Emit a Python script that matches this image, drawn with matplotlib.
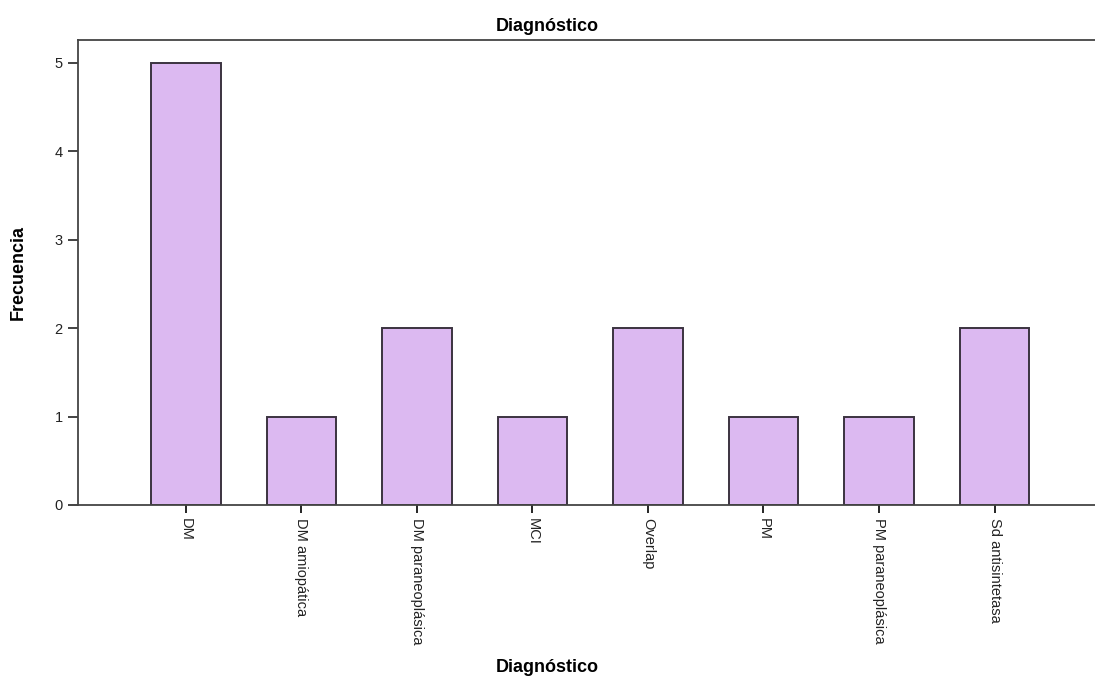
import matplotlib
matplotlib.use("Agg")
import matplotlib.pyplot as plt

plt.rcParams['font.family'] = ['Liberation Sans', 'DejaVu Sans']

diagnosticos = ["DM", "DM amiopática", "DM paraneoplásica", "MCI", "Overlap",
                "PM", "PM paraneoplásica", "Sd antisintetasa"]
frecuencia = [5, 1, 2, 1, 2, 1, 1, 2]

fig = plt.figure(figsize=(10.95, 6.84), dpi=100)
ax = fig.add_axes([0.0712, 0.2617, 0.9288, 0.6798])

x = list(range(len(diagnosticos)))
ax.bar(x, frecuencia, width=0.6, color="#dcb9f1", edgecolor="#3b3340", linewidth=1.4)

ax.set_xlim(-0.935, 7.87)
ax.set_ylim(0, 5.26)
ax.set_yticks([0, 1, 2, 3, 4, 5])
ax.set_xticks(x)
ax.set_xticklabels(diagnosticos, rotation=-90, fontsize=10.5, color="#222222")
ax.tick_params(axis="y", labelsize=10.5, colors="#222222", length=7, width=1.2,
               direction="out", pad=4)
ax.tick_params(axis="x", length=6, width=1.2, direction="out")

for s in ["left", "top", "bottom"]:
    ax.spines[s].set_color("#444444")
    ax.spines[s].set_linewidth(1.3)
ax.spines["right"].set_visible(False)

fig.text(0.5, 0.955, "Diagnóstico", ha="center", fontsize=13, fontweight="bold")
ax.set_ylabel("Frecuencia", fontsize=13, fontweight="bold", labelpad=20)
fig.text(0.5, 0.018, "Diagnóstico", ha="center", fontsize=13, fontweight="bold")

fig.savefig("out.png", dpi=100)
